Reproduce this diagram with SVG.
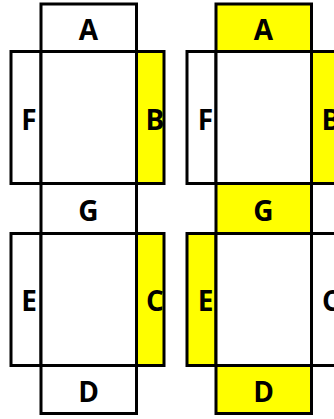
<svg xmlns="http://www.w3.org/2000/svg" width="334" height="419" viewBox="0 0 334 419">
<style>
.f{stroke:#000;stroke-width:3;fill:#fff}
.y{fill:#ffff00}
.t{font-family:"Open Sans","Liberation Sans",sans-serif;font-weight:bold;font-size:28px;fill:#000;text-anchor:middle}
</style>
<rect width="334" height="419" fill="#fff"/>
<g id="left-net">
<g id="L-A"><rect class="f" x="41" y="4" width="95.5" height="47.5"/><text class="t" x="88.5" y="40">A</text></g>
<g id="L-F"><rect class="f" x="11" y="51.5" width="30" height="132"/><text class="t" x="29" y="130">F</text></g>
<g id="L-top"><rect class="f" x="41" y="51.5" width="95.5" height="132"/></g>
<g id="L-B"><rect class="f y" x="136.5" y="51.5" width="27.5" height="132"/><text class="t" x="155" y="130">B</text></g>
<g id="L-G"><rect class="f" x="41" y="183.5" width="95.5" height="50"/><text class="t" x="88.5" y="221">G</text></g>
<g id="L-E"><rect class="f" x="11" y="233.5" width="30" height="132"/><text class="t" x="29" y="311">E</text></g>
<g id="L-bottom"><rect class="f" x="41" y="233.5" width="95.5" height="132"/></g>
<g id="L-C"><rect class="f y" x="136.5" y="233.5" width="27.5" height="132"/><text class="t" x="155" y="311">C</text></g>
<g id="L-D"><rect class="f" x="41" y="365.5" width="95.5" height="48"/><text class="t" x="88.5" y="402">D</text></g>
</g>
<g id="right-net">
<g id="R-A"><rect class="f y" x="216" y="4" width="95.5" height="47.5"/><text class="t" x="263.5" y="40">A</text></g>
<g id="R-F"><rect class="f" x="187" y="51.5" width="29" height="132"/><text class="t" x="205.5" y="130">F</text></g>
<g id="R-top"><rect class="f" x="216" y="51.5" width="95.5" height="132"/></g>
<g id="R-B"><rect class="f y" x="311.5" y="51.5" width="28" height="132"/><text class="t" x="331" y="130">B</text></g>
<g id="R-G"><rect class="f y" x="216" y="183.5" width="95.5" height="50"/><text class="t" x="263.5" y="221">G</text></g>
<g id="R-E"><rect class="f y" x="187" y="233.5" width="29" height="132"/><text class="t" x="205.5" y="311">E</text></g>
<g id="R-bottom"><rect class="f" x="216" y="233.5" width="95.5" height="132"/></g>
<g id="R-C"><rect class="f" x="311.5" y="233.5" width="28" height="132"/><text class="t" x="331" y="311">C</text></g>
<g id="R-D"><rect class="f y" x="216" y="365.5" width="95.5" height="48"/><text class="t" x="263.5" y="402">D</text></g>
</g>
</svg>
